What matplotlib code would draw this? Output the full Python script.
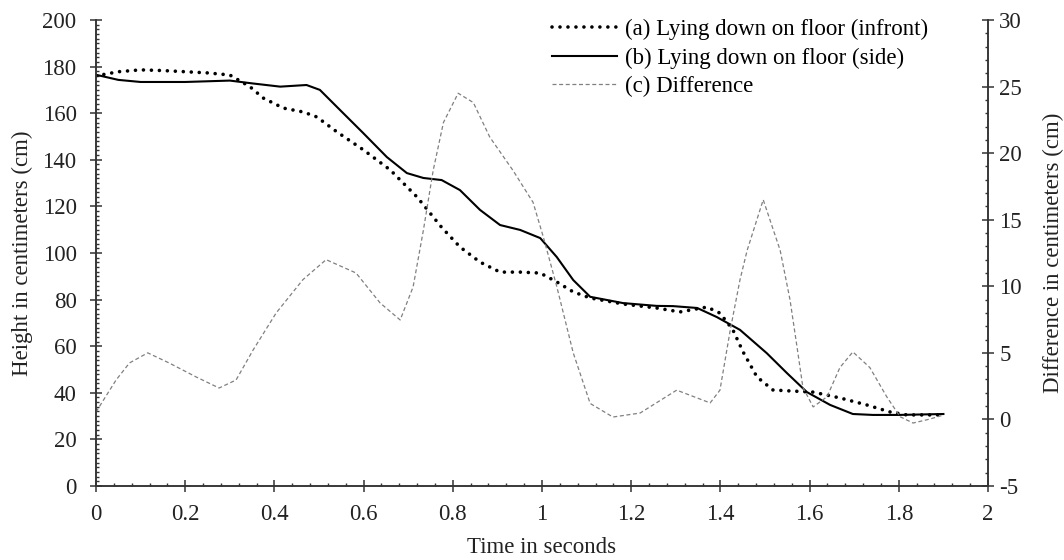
import numpy as np
import matplotlib
matplotlib.use('Agg')
import matplotlib.pyplot as plt
from matplotlib.ticker import MultipleLocator, FormatStrFormatter

plt.rcParams['font.family'] = ['Liberation Serif', 'DejaVu Serif']
plt.rcParams['axes.unicode_minus'] = False

# (a) lying down on floor, camera in front (cm)
t_a = [0, 0.05, 0.1, 0.15, 0.2, 0.25, 0.3, 0.345, 0.375, 0.42, 0.465, 0.495, 0.54,
       0.6, 0.66, 0.72, 0.775, 0.816, 0.861, 0.906, 0.951, 0.996, 1.033, 1.07,
       1.108, 1.182, 1.257, 1.309, 1.37, 1.399, 1.428, 1.451, 1.482, 1.518, 1.556,
       1.608, 1.668, 1.728, 1.78, 1.818, 1.9]
h_front = [176, 177.8, 178.6, 178.3, 177.8, 177.3, 176.4, 171.4, 166.5, 162.2, 160.5,
           158.4, 152, 144.2, 135.6, 124, 111, 102.6, 96.1, 91.8, 91.8, 91.4, 87.6,
           83.3, 80.7, 78.1, 76.4, 74.7, 76.8, 74.2, 67, 57.5, 46.8, 41.2, 40.8,
           40.3, 37.8, 34.8, 31.8, 30.5, 30.5]

# (b) lying down on floor, camera at side (cm)
t_b = [0, 0.05, 0.1, 0.2, 0.3, 0.35, 0.413, 0.472, 0.502, 0.547, 0.599, 0.652, 0.697,
       0.734, 0.775, 0.816, 0.861, 0.906, 0.951, 0.996, 1.033, 1.07, 1.108, 1.182,
       1.257, 1.294, 1.348, 1.392, 1.444, 1.504, 1.549, 1.594, 1.646, 1.697, 1.742,
       1.8, 1.9]
h_side = [176.5, 174.3, 173.4, 173.4, 174, 172.8, 171.4, 172.1, 170, 161.4, 151.5,
          141.2, 134.3, 132.2, 131.3, 127, 118.5, 112, 109.9, 106.4, 98.3, 88.4, 81.2,
          78.5, 77.3, 77.2, 76.4, 72.5, 67, 57, 48.5, 40.3, 34.8, 30.9, 30.5, 30.5,
          30.9]

# (c) difference (cm), right axis
t_c = [0, 0.045, 0.075, 0.116, 0.164, 0.224, 0.276, 0.314, 0.352, 0.404, 0.464, 0.516,
       0.583, 0.637, 0.682, 0.711, 0.734, 0.756, 0.779, 0.812, 0.846, 0.883, 0.935,
       0.98, 1.003, 1.033, 1.07, 1.108, 1.159, 1.22, 1.302, 1.377, 1.399, 1.422,
       1.444, 1.46, 1.496, 1.534, 1.556, 1.572, 1.585, 1.608, 1.639, 1.668, 1.697,
       1.735, 1.773, 1.803, 1.832, 1.87, 1.9]
diff = [0.56, 2.96, 4.24, 5.0, 4.24, 3.2, 2.36, 2.96, 5.2, 8.0, 10.5, 12.0, 11.0,
        8.75, 7.47, 9.95, 14.2, 18.7, 22.3, 24.5, 23.8, 21.2, 18.7, 16.3, 13.7, 10.0,
        5.0, 1.2, 0.18, 0.48, 2.2, 1.24, 2.2, 6.7, 10.5, 12.7, 16.5, 12.7, 9.0, 5.4,
        2.4, 0.94, 1.7, 3.9, 5.07, 3.9, 1.7, 0.2, -0.27, 0.03, 0.33]

labels = ['(a) Lying down on floor (infront)',
          '(b) Lying down on floor (side)',
          '(c) Difference']

fs = 16.5
fig = plt.figure(figsize=(10.64, 5.6), dpi=100)
ax = fig.add_axes([96/1064, 1 - 486/560, 892/1064, 466/560])
ax2 = ax.twinx()

l1, = ax.plot(t_a, h_front, color='black', lw=2.6, linestyle=(0, (0.01, 2.2)),
              dash_capstyle='round')
l2, = ax.plot(t_b, h_side, color='black', lw=1.5)
l3, = ax2.plot(t_c, diff, color='#808080', lw=0.9, linestyle=(0, (3.2, 2.1)))

ax.set_xlim(0, 2)
ax.set_ylim(0, 200)
ax2.set_ylim(-5, 30)

ax.xaxis.set_major_locator(MultipleLocator(0.2))
ax.xaxis.set_minor_locator(MultipleLocator(0.04))
ax.yaxis.set_major_locator(MultipleLocator(20))
ax.yaxis.set_minor_locator(MultipleLocator(2))
ax2.yaxis.set_major_locator(MultipleLocator(5))
ax2.yaxis.set_minor_locator(MultipleLocator(1))
ax.xaxis.set_major_formatter(FormatStrFormatter('%g'))

for a in (ax, ax2):
    a.spines['top'].set_visible(False)
    for s in a.spines.values():
        s.set_linewidth(1.1)
        s.set_color('#333333')
    a.tick_params(which='major', direction='inout', length=8, width=1.1,
                  color='#333333', labelsize=fs, labelcolor='#222222')
    a.tick_params(which='minor', direction='in', length=2.5, width=1.0,
                  color='#333333')
ax.tick_params(axis='x', which='major', pad=9)
ax.tick_params(axis='y', which='major', pad=10)
ax2.tick_params(axis='y', which='major', pad=4)

ax.set_xlabel('Time in seconds', fontsize=fs, color='#222222')
ax.set_ylabel('Height in centimeters (cm)', fontsize=fs, color='#222222')
ax2.set_ylabel('Difference in centimeters (cm)', fontsize=fs, color='#222222')
ax.xaxis.set_label_coords(0.5, -0.109)
ax.yaxis.set_label_coords(-0.0706, 0.5)
ax2.yaxis.set_label_coords(1.0617, 0.5)

ax.legend([l1, l2, l3], labels, loc='upper left', bbox_to_anchor=(0.511, 1.002),
          frameon=False, fontsize=fs, handlelength=2.85, handletextpad=0.35,
          labelspacing=0.31, borderpad=0, borderaxespad=0)

fig.savefig('out.png', dpi=100)
